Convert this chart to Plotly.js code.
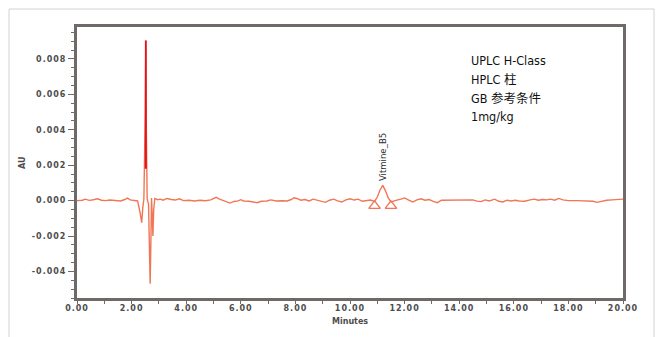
<!DOCTYPE html>
<html>
<head>
<meta charset="utf-8">
<script src="https://cdn.plot.ly/plotly-3.0.1.min.js"></script>
<style>
  html, body { margin: 0; padding: 0; background: #fff; }
  #chart { width: 659px; height: 337px; }
  .xtick text, .ytick text { letter-spacing: 1px; }
</style>
</head>
<body>
<div id="chart"></div>
<script>
// Chromatogram trace: retention time (min) and absorbance (AU)
const timeMin = [
  0.0, 0.2, 0.3, 0.45, 0.6, 0.75, 0.9, 1.05, 1.2, 1.4, 1.6, 1.75, 1.85, 1.95, 2.1,
  2.22, 2.30, 2.37, 2.41, 2.45, 2.50, 2.52, 2.54, 2.57, 2.62, 2.68, 2.71, 2.73, 2.76,
  2.78, 2.81, 2.85, 2.95, 3.05, 3.15, 3.3, 3.45, 3.6, 3.75, 3.9, 4.1, 4.3, 4.5, 4.7,
  4.9, 5.0, 5.1, 5.2, 5.35, 5.5, 5.6, 5.75, 5.9, 6.0, 6.1, 6.3, 6.5, 6.6, 6.75, 6.95,
  7.1, 7.3, 7.5, 7.7, 7.85, 7.95, 8.05, 8.2, 8.35, 8.5, 8.65, 8.8, 8.95, 9.1, 9.25,
  9.4, 9.55, 9.7, 9.85, 10.0, 10.15, 10.3, 10.45, 10.6, 10.75, 10.9, 11.0, 11.1, 11.2,
  11.3, 11.4, 11.5, 11.6, 11.75, 11.9, 12.0, 12.15, 12.3, 12.45, 12.6, 12.75, 12.9,
  13.05, 13.2, 13.35, 13.5, 13.7, 13.9, 14.1, 14.3, 14.5, 14.65, 14.8, 14.95, 15.1,
  15.3, 15.45, 15.6, 15.75, 15.9, 16.05, 16.2, 16.4, 16.6, 16.75, 16.9, 17.05, 17.2,
  17.35, 17.5, 17.65, 17.8, 18.0, 18.3, 18.6, 18.9, 19.05, 19.2, 19.4, 19.6, 19.8, 20.0
];
const absorbanceAU = [
  0.00000, 0.00002, 0.00008, 0.00001, 0.00005, 0.00010, 0.00002, 0.00000, 0.00003, 0.00000, -0.00002, 0.00006, 0.00014, 0.00004, 0.00000,
  -0.00002, -0.00060, -0.00125, -0.00040, 0.00010, 0.00500, 0.00904, 0.00400, 0.00010, -0.00020, -0.00470, -0.00200, 0.00015, -0.00100,
  -0.00200, -0.00050, 0.00012, 0.00005, 0.00008, 0.00002, 0.00012, 0.00006, 0.00003, 0.00010, 0.00000, 0.00002, -0.00002, 0.00002, -0.00001,
  0.00004, 0.00012, 0.00018, 0.00010, 0.00000, -0.00010, -0.00014, -0.00005, -0.00002, 0.00005, -0.00002, -0.00004, -0.00010, -0.00012, -0.00004, -0.00002,
  0.00004, -0.00002, -0.00001, -0.00002, 0.00006, 0.00016, 0.00012, 0.00002, 0.00006, -0.00002, 0.00008, 0.00002, -0.00003, -0.00010, 0.00002,
  0.00008, -0.00002, -0.00008, 0.00004, 0.00010, 0.00003, 0.00008, -0.00004, -0.00002, 0.00003, -0.00005, 0.00020, 0.00060, 0.00086,
  0.00055, 0.00015, -0.00008, -0.00002, 0.00004, 0.00010, 0.00015, 0.00002, -0.00008, 0.00004, 0.00010, 0.00002, 0.00006,
  -0.00004, -0.00012, 0.00002, 0.00002, 0.00003, 0.00001, 0.00003, 0.00000, 0.00004, -0.00003, -0.00006, 0.00004, -0.00002,
  0.00008, -0.00004, -0.00008, 0.00002, -0.00002, 0.00002, -0.00002, -0.00004, 0.00004, 0.00008, 0.00002, 0.00006, 0.00004,
  0.00008, 0.00002, 0.00012, 0.00004, 0.00000, 0.00000, -0.00001, -0.00004, -0.00010, -0.00004, 0.00002, 0.00004, 0.00008, 0.00008
];

// Off-scale part of the solvent-front spike, drawn in red
const spikeTime = [2.515, 2.52, 2.525];
const spikeAU = [0.0018, 0.00904, 0.0018];

// Integration start / end marks of the vitamin B5 peak
const peakMarkTime = [10.9, 11.5];
const peakMarkAU = [-0.0003, -0.0003];
const peakName = "Vitmine_B5";
const peakApexTime = 11.2;
const peakApexAU = 0.00086;

// Axis ticks
const xTickVals = [0, 2, 4, 6, 8, 10, 12, 14, 16, 18, 20];
const xTickText = ["0.00", "2.00", "4.00", "6.00", "8.00", "10.00", "12.00", "14.00", "16.00", "18.00", "20.00"];
const yTickVals = [-0.004, -0.002, 0, 0.002, 0.004, 0.006, 0.008];
const yTickText = ["-0.004", "-0.002", "0.000", "0.002", "0.004", "0.006", "0.008"];

// Method notes shown in the upper right
const infoLines = ["UPLC H-Class", "HPLC 柱", "GB 参考条件", "1mg/kg"];

const traceColor = "#f07655";
const frameColor = "#6f6a68";
const tickFont = { family: "DejaVu Sans, sans-serif", size: 8, color: "#4d4d4d", weight: 700 };
const narrowFont = "Liberation Sans Narrow, DejaVu Sans Condensed, Noto Sans CJK SC, sans-serif";

const data = [
  {
    x: timeMin, y: absorbanceAU, type: "scatter", mode: "lines",
    line: { color: traceColor, width: 1.4 }, hoverinfo: "skip"
  },
  {
    x: spikeTime, y: spikeAU, type: "scatter", mode: "lines",
    line: { color: "#e3121c", width: 1.8 }, hoverinfo: "skip"
  },
  {
    x: peakMarkTime, y: peakMarkAU, type: "scatter", mode: "markers",
    marker: { symbol: "triangle-up-open", size: 10, color: traceColor, line: { width: 1.4, color: traceColor } },
    hoverinfo: "skip"
  }
];

// one annotation per note line, 18 px apart
const lineGapPaper = 18 / 261;
const infoAnnotations = infoLines.map((t, i) => ({
  text: t, xref: "x", yref: "paper",
  x: 14.36, y: 0.875 - i * lineGapPaper, xanchor: "left", yanchor: "middle", align: "left",
  showarrow: false, font: { family: narrowFont, size: 12.5, color: "#111111" }
}));

const layout = {
  width: 659, height: 337,
  margin: { l: 77, r: 36, t: 27, b: 39, pad: 0 },
  paper_bgcolor: "#ffffff", plot_bgcolor: "#ffffff",
  showlegend: false,
  xaxis: {
    range: [0, 20], showgrid: false, zeroline: false,
    showline: true, linecolor: frameColor, linewidth: 3, mirror: true,
    ticks: "outside", ticklen: 3, tickwidth: 1, tickcolor: frameColor,
    ticklabelstandoff: -3,
    tickvals: xTickVals, ticktext: xTickText, tickfont: tickFont,
    minor: { dtick: 1, ticks: "outside", ticklen: 3, tickcolor: frameColor, showgrid: false }
  },
  yaxis: {
    range: [-0.0055, 0.0098], showgrid: false, zeroline: false,
    showline: true, linecolor: frameColor, linewidth: 3, mirror: true,
    ticks: "outside", ticklen: 6, tickwidth: 1, tickcolor: frameColor,
    tickvals: yTickVals, ticktext: yTickText, tickfont: tickFont,
    minor: { dtick: 0.0005, ticks: "outside", ticklen: 3, tickcolor: frameColor, showgrid: false }
  },
  shapes: [
    {
      type: "rect", xref: "paper", yref: "paper",
      x0: -0.1245, x1: 1.0568, y0: -0.25, y1: 1.0664,
      line: { color: "#d2d2d2", width: 1 }, fillcolor: "rgba(0,0,0,0)", layer: "below"
    }
  ],
  annotations: infoAnnotations.concat([
    {
      text: peakName, xref: "x", yref: "y",
      x: peakApexTime, y: peakApexAU, xanchor: "center", yanchor: "bottom",
      textangle: -90, yshift: 2, showarrow: false,
      font: { family: narrowFont, size: 9.5, color: "#2e2e2e" }
    },
    {
      text: "Minutes", xref: "x", yref: "paper",
      x: 10, y: -0.085, xanchor: "center", yanchor: "middle", showarrow: false,
      font: { family: "DejaVu Sans, sans-serif", size: 8, color: "#4d4d4d", weight: 700 }
    },
    {
      text: "AU", xref: "paper", yref: "paper",
      x: -0.1, y: 0.5, xanchor: "center", yanchor: "middle", textangle: -90, showarrow: false,
      font: { family: "DejaVu Sans, sans-serif", size: 8, color: "#4d4d4d", weight: 700 }
    }
  ])
};

Plotly.newPlot("chart", data, layout, { staticPlot: true, displayModeBar: false });
</script>
</body>
</html>
